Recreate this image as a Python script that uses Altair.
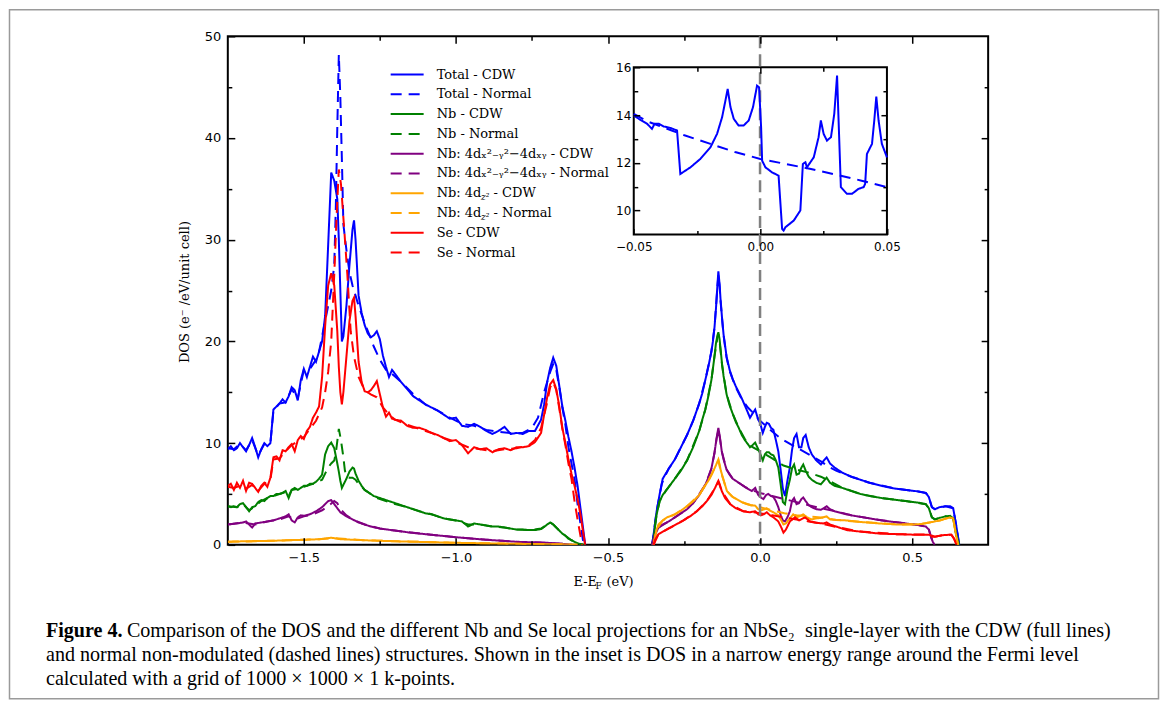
import altair as alt
import pandas as pd

# ---------------- series meta ----------------
SERIES = ["Total - CDW", "Total - Normal", "Nb - CDW", "Nb - Normal",
          "Nb d1 - CDW", "Nb d1 - Normal", "Nb d2 - CDW", "Nb d2 - Normal",
          "Se - CDW", "Se - Normal"]
COLORS = ["#0000ff", "#0000ff", "#008000", "#008000", "#800080", "#800080",
          "#ffa500", "#ffa500", "#ff0000", "#ff0000"]
DASHES = [[1, 0], [11, 7], [1, 0], [11, 7], [1, 0], [11, 7], [1, 0], [11, 7], [1, 0], [11, 7]]
LEGEND_LABELS = ["Total - CDW", "Total - Normal", "Nb - CDW", "Nb - Normal",
                 "Nb: 4dₓ²₋ᵧ²−4dₓᵧ - CDW", "Nb: 4dₓ²₋ᵧ²−4dₓᵧ - Normal",
                 "Nb: 4d", "Nb: 4d", "Se - CDW", "Se - Normal"]
LEGEND_SUB = ["", "", "", "", "", "", "z²", "z²", "", ""]
LEGEND_TAIL = ["", "", "", "", "", "", "- CDW", "- Normal", "", ""]

# ---------------- lower band (E < -0.5 eV) ----------------
LO_GRID = [-1.75, -1.74, -1.73, -1.72, -1.71, -1.70, -1.69, -1.68, -1.67, -1.66,
           -1.65, -1.64, -1.63, -1.62, -1.61, -1.60, -1.59, -1.58, -1.57, -1.56,
           -1.55, -1.54, -1.53, -1.52, -1.51, -1.50, -1.49, -1.48, -1.47, -1.46,
           -1.45, -1.44, -1.43, -1.42, -1.41, -1.40,
           -1.39, -1.385, -1.38, -1.375, -1.37,
           -1.36, -1.35, -1.34, -1.335,
           -1.33, -1.32, -1.31, -1.30, -1.29, -1.28, -1.27, -1.26, -1.25, -1.24, -1.23, -1.22, -1.21, -1.20,
           -1.18, -1.16, -1.14, -1.12, -1.10, -1.08, -1.06, -1.04, -1.02, -1.00, -0.98, -0.96, -0.94, -0.92,
           -0.90, -0.88, -0.86, -0.84, -0.82, -0.80, -0.78, -0.76, -0.74,
           -0.72, -0.71, -0.70, -0.69, -0.68, -0.67, -0.66, -0.65, -0.64, -0.63, -0.62, -0.61, -0.60, -0.59, -0.58,
           -0.575]
TOT_LO_V = [9.4, 9.7, 9.3, 9.5, 10.0, 9.6, 9.2, 9.8, 10.5, 9.6,
            8.6, 9.4, 10.0, 9.7, 10.0, 13.3, 13.6, 13.9, 14.3, 14.0,
            14.6, 15.5, 15.2, 14.2, 16.2, 17.3, 16.5, 17.5, 18.5, 18.0,
            19.0, 20.0, 22.5, 29.5, 36.6, 35.8,
            34.0, 30.0, 25.0, 20.0, 20.5,
            23.5, 27.5, 31.0, 31.9,
            30.0, 24.5, 22.8, 21.6, 20.8, 20.4, 20.6, 21.0, 20.2, 18.6, 17.5, 16.5, 17.2, 16.8,
            16.0, 15.3, 14.6, 14.2, 13.8, 13.5, 13.2, 12.8, 12.4, 12.5, 11.7, 11.6, 11.9, 11.6,
            11.2, 10.9, 11.2, 11.6, 10.9, 11.0, 10.9, 11.2, 11.2,
            12.3, 13.8, 16.0, 17.4, 18.4, 17.6, 15.6, 13.6, 12.2, 10.6, 9.2, 7.6, 5.8, 3.5, 1.2,
            0.0]
SE_LO_V = [5.8, 6.0, 5.4, 6.1, 5.6, 6.3, 5.3, 6.1, 6.0, 5.6,
           5.2, 5.8, 6.1, 5.7, 6.6, 8.6, 8.7, 8.3, 9.3, 9.2,
           9.6, 9.9, 9.2, 10.3, 10.7, 10.4, 11.2, 11.6, 12.5, 13.0,
           13.6, 16.5, 21.5, 25.5, 26.7, 25.5,
           21.0, 17.5, 15.0, 13.8, 15.0,
           18.5, 22.0, 24.0, 24.3,
           22.5, 18.0, 16.0, 15.1, 15.0, 15.2, 15.6, 16.1, 14.8, 13.5, 12.6, 13.0, 12.4, 12.3,
           12.2, 11.7, 11.5, 11.5, 11.3, 11.0, 10.8, 10.5, 10.2, 10.3, 9.8, 9.0, 9.6, 9.4,
           9.5, 9.1, 9.4, 9.5, 9.3, 9.6, 9.6, 9.7, 10.1,
           11.0, 12.8, 14.5, 15.8, 16.2, 15.3, 13.6, 11.5, 10.0, 8.4, 7.0, 5.8, 4.5, 2.9, 0.9,
           0.0]
NB_LO_V = [3.8, 3.7, 3.8, 3.7, 4.0, 4.1, 3.7, 3.3, 3.7, 3.8,
           4.2, 4.4, 4.3, 4.6, 4.8, 4.8, 5.0, 5.0, 5.1, 5.3,
           4.6, 5.4, 5.6, 5.4, 5.6, 5.8, 5.8, 6.0, 6.0, 6.2,
           6.5, 6.9, 8.9, 9.7, 10.05, 9.5,
           8.0, 7.2, 6.3, 5.6, 5.9,
           6.5, 7.2, 7.6, 7.5,
           7.0, 6.3, 5.8, 5.4, 5.2, 5.0, 4.8, 4.7, 4.6, 4.5, 4.4, 4.3, 4.2, 4.1,
           3.9, 3.7, 3.5, 3.3, 3.1, 3.0, 2.8, 2.6, 2.5, 2.4, 2.3, 1.8, 2.1, 2.0,
           1.9, 1.8, 1.8, 1.7, 1.6, 1.5, 1.5, 1.45, 1.45,
           1.55, 1.75, 2.0, 2.2, 2.0, 1.7, 1.4, 1.1, 0.9, 0.6, 0.45, 0.3, 0.15, 0.05, 0.0,
           0.0]
TOTN_LO_E = [-1.75, -1.73, -1.71, -1.69, -1.67, -1.65, -1.63, -1.61, -1.60, -1.58, -1.56, -1.54, -1.52,
             -1.50, -1.48, -1.46, -1.45, -1.44, -1.43, -1.42, -1.41, -1.40, -1.395, -1.39, -1.385,
             -1.38, -1.375, -1.37, -1.36, -1.35, -1.34, -1.33, -1.32, -1.30, -1.28, -1.27, -1.25,
             -1.23, -1.21, -1.18, -1.14, -1.10, -1.06, -1.02, -0.98, -0.94, -0.90, -0.86, -0.82,
             -0.78, -0.75, -0.73, -0.71, -0.69, -0.68, -0.67, -0.66, -0.65, -0.64, -0.63, -0.62,
             -0.61, -0.60, -0.59, -0.58]
TOTN_LO_V = [9.5, 9.4, 9.9, 9.3, 10.3, 8.8, 9.9, 10.0, 13.2, 13.9, 14.0, 15.3, 14.4,
             17.2, 17.3, 18.2, 19.0, 20.5, 22.0, 23.5, 25.0, 27.5, 33.0, 41.0, 48.2,
             44.0, 38.0, 31.5, 29.0, 26.8, 25.5, 24.5, 23.5, 21.8, 20.3, 19.5, 18.2,
             17.2, 16.8, 16.0, 14.8, 13.8, 13.2, 12.5, 11.9, 11.7, 11.3, 11.1, 11.0,
             11.0, 11.5, 12.5, 15.0, 17.0, 17.8, 17.2, 15.5, 13.5, 11.8, 9.6, 8.0,
             6.5, 4.0, 2.0, 0.0]
SEN_LO_E = [-1.75, -1.73, -1.71, -1.69, -1.67, -1.65, -1.63, -1.61, -1.60, -1.58, -1.56, -1.54,
            -1.52, -1.50, -1.48, -1.46, -1.44, -1.43, -1.42, -1.41, -1.40, -1.392, -1.385,
            -1.378, -1.372, -1.366, -1.357, -1.346, -1.335, -1.32, -1.30, -1.28, -1.26, -1.24,
            -1.22, -1.20, -1.16, -1.12, -1.08, -1.04, -1.00, -0.96, -0.92, -0.88, -0.84, -0.80,
            -0.76, -0.74, -0.72, -0.70, -0.69, -0.68, -0.67, -0.66, -0.65, -0.64, -0.63, -0.62,
            -0.61, -0.60, -0.59, -0.585]
SEN_LO_V = [5.7, 5.6, 5.8, 5.5, 5.9, 5.3, 6.0, 6.4, 8.4, 8.5, 9.2, 9.8,
            10.2, 10.6, 11.4, 12.2, 13.5, 15.0, 17.0, 20.0, 26.6, 32.5, 36.9,
            35.5, 33.0, 30.5, 26.6, 21.0, 18.5, 16.5, 15.2, 14.8, 14.5, 13.5,
            12.8, 12.3, 11.8, 11.4, 11.0, 10.5, 10.1, 9.6, 9.4, 9.2, 9.4, 9.5,
            9.8, 10.3, 11.5, 14.0, 15.5, 16.0, 15.2, 13.4, 11.4, 9.8, 8.0, 6.5,
            4.3, 2.5, 0.8, 0.0]
NBN_LO_E = [-1.75, -1.72, -1.70, -1.68, -1.66, -1.64, -1.62, -1.60, -1.58, -1.56, -1.55, -1.54,
            -1.52, -1.50, -1.48, -1.46, -1.44, -1.43, -1.42, -1.41, -1.40, -1.395, -1.39, -1.385,
            -1.378, -1.37, -1.365, -1.36, -1.35, -1.34, -1.33, -1.32, -1.30, -1.28, -1.26, -1.24,
            -1.20, -1.16, -1.12, -1.08, -1.04, -1.00, -0.96, -0.92, -0.88, -0.84, -0.80, -0.76,
            -0.72, -0.70, -0.69, -0.68, -0.66, -0.64, -0.62, -0.60, -0.58]
NBN_LO_V = [3.8, 3.7, 4.0, 3.4, 3.8, 4.3, 4.6, 4.8, 5.0, 5.2, 4.8, 5.4,
            5.5, 5.7, 5.9, 6.1, 6.4, 7.0, 7.6, 8.0, 8.3, 9.0, 10.2, 11.4,
            10.3, 8.6, 7.3, 6.7, 6.6, 6.6, 6.4, 6.0, 5.4, 5.0, 4.6, 4.4,
            4.0, 3.7, 3.3, 3.0, 2.6, 2.4, 2.0, 2.0, 1.8, 1.7, 1.5, 1.45,
            1.6, 2.0, 2.2, 2.0, 1.4, 0.9, 0.45, 0.15, 0.0]
PUR_LO_E = [-1.75, -1.72, -1.70, -1.69, -1.68, -1.67, -1.66, -1.64, -1.62, -1.60, -1.58, -1.56,
            -1.55, -1.54, -1.53, -1.52, -1.51, -1.50, -1.48, -1.46, -1.44, -1.43, -1.42, -1.41,
            -1.40, -1.39, -1.38, -1.37, -1.36, -1.34, -1.32, -1.30, -1.28, -1.25, -1.20, -1.15,
            -1.10, -1.00, -0.90, -0.80, -0.70, -0.65, -0.62]
PUR_LO_V = [2.0, 2.1, 2.2, 2.3, 2.0, 1.7, 2.1, 2.2, 2.3, 2.4, 2.6, 2.8,
            3.0, 2.4, 2.2, 2.7, 2.9, 2.85, 3.0, 3.3, 3.7, 4.0, 4.3, 4.4,
            4.0, 3.6, 3.2, 3.0, 2.8, 2.5, 2.2, 2.0, 1.8, 1.6, 1.4, 1.2,
            1.05, 0.75, 0.5, 0.3, 0.2, 0.1, 0.0]
PURN_LO_E = [-1.75, -1.70, -1.66, -1.62, -1.58, -1.55, -1.53, -1.50, -1.47, -1.44, -1.42, -1.40, -1.39,
             -1.38, -1.36, -1.34, -1.30, -1.25, -1.20, -1.10, -1.00, -0.90, -0.80, -0.70, -0.65, -0.62]
PURN_LO_V = [2.0, 2.2, 2.0, 2.3, 2.5, 2.8, 2.5, 2.8, 3.0, 3.4, 3.8, 4.3, 4.1,
             3.5, 2.9, 2.5, 2.0, 1.6, 1.4, 1.05, 0.75, 0.5, 0.3, 0.2, 0.1, 0.0]
ORA_LO_E = [-1.75, -1.70, -1.60, -1.50, -1.45, -1.41, -1.38, -1.30, -1.20, -1.00, -0.80, -0.65, -0.60]
ORA_LO_V = [0.3, 0.35, 0.4, 0.5, 0.55, 0.7, 0.55, 0.45, 0.35, 0.2, 0.1, 0.05, 0.0]
ORAN_LO_E = [-1.75, -1.60, -1.45, -1.40, -1.30, -1.20, -1.00, -0.80, -0.60]
ORAN_LO_V = [0.3, 0.4, 0.55, 0.65, 0.45, 0.35, 0.2, 0.1, 0.0]

# ---------------- upper band (E > -0.4 eV) ----------------
UP_GRID = [-0.355, -0.35, -0.345, -0.34, -0.33, -0.32, -0.31, -0.30, -0.28, -0.26, -0.24, -0.22,
           -0.20, -0.19, -0.18, -0.17, -0.16, -0.155, -0.15, -0.145, -0.14, -0.137, -0.133, -0.13,
           -0.125, -0.12, -0.11, -0.10, -0.09, -0.08, -0.07, -0.06, -0.05, -0.04, -0.033, -0.025,
           -0.016, -0.006, 0.0, 0.009, 0.016, 0.022, 0.029, 0.036, 0.044, 0.052, 0.060, 0.068,
           0.075, 0.082, 0.090, 0.098, 0.105, 0.112, 0.120, 0.128, 0.136, 0.142, 0.150, 0.160,
           0.170, 0.185, 0.200, 0.210, 0.219, 0.230, 0.245, 0.27, 0.30, 0.33, 0.36, 0.40, 0.44,
           0.48, 0.52, 0.545, 0.555, 0.565, 0.575, 0.59, 0.61, 0.625, 0.635, 0.645, 0.655]
TOT_UP_V = [0, 1.0, 2.2, 3.3, 5.0, 6.5, 7.0, 7.5, 8.4, 9.6, 10.8, 12.2,
            13.9, 14.9, 16.2, 17.5, 19.0, 20.0, 21.3, 23.2, 25.6, 26.9, 25.6, 24.2,
            22.3, 20.7, 18.5, 17.2, 16.3, 15.6, 15.0, 14.4, 13.7, 13.0, 12.5, 12.9,
            13.3, 12.3, 12.0, 11.0, 11.6, 12.0, 11.9, 11.5, 11.3, 10.3, 9.2, 7.3,
            5.5, 4.8, 6.3, 7.6, 9.3, 10.5, 10.9, 9.6, 9.6, 10.5, 10.8, 9.6,
            8.9, 8.3, 7.9, 8.3, 8.6, 8.0, 7.6, 7.1, 6.7, 6.4, 6.1, 5.8, 5.55,
            5.4, 5.25, 5.1, 4.7, 3.7, 3.5, 3.7, 3.8, 3.8, 3.6, 1.9, 0]
NB_UP_V = [0, 0.6, 1.9, 3.0, 4.3, 4.9, 5.3, 5.7, 6.5, 7.3, 8.3, 9.6,
           11.2, 12.3, 13.3, 14.6, 16.2, 17.3, 18.5, 19.8, 20.6, 20.9, 20.2, 19.3,
           17.8, 16.6, 14.8, 13.7, 12.9, 12.1, 11.5, 10.8, 10.3, 9.9, 9.6, 9.8,
           10.05, 9.4, 9.0, 8.3, 8.9, 9.1, 9.1, 8.9, 8.8, 8.3, 7.6, 5.9,
           4.2, 4.0, 5.4, 6.4, 7.5, 7.9, 6.9, 7.0, 7.6, 7.9, 7.3, 6.7,
           6.4, 6.1, 5.95, 6.3, 6.6, 6.1, 5.8, 5.6, 5.3, 5.0, 4.8, 4.6, 4.45,
           4.3, 4.15, 4.0, 3.6, 2.7, 2.5, 2.65, 2.8, 2.85, 2.6, 1.0, 0]
PUR_UP_E = [-0.355, -0.345, -0.334, -0.32, -0.30, -0.28, -0.26, -0.24, -0.22, -0.20, -0.18, -0.17,
            -0.16, -0.15, -0.143, -0.137, -0.132, -0.126, -0.12, -0.11, -0.10, -0.09, -0.08, -0.07,
            -0.06, -0.05, -0.04, -0.027, -0.016, -0.006, 0.005, 0.011, 0.02, 0.027, 0.036, 0.044,
            0.052, 0.060, 0.068, 0.075, 0.082, 0.09, 0.098, 0.105, 0.112, 0.120, 0.128, 0.136,
            0.142, 0.150, 0.160, 0.170, 0.185, 0.200, 0.210, 0.219, 0.230, 0.245, 0.27, 0.30,
            0.33, 0.36, 0.40, 0.44, 0.48, 0.52, 0.545, 0.555, 0.563, 0.568, 0.574]
PUR_UP_V = [0, 1.0, 1.7, 2.0, 2.3, 2.7, 3.1, 3.5, 4.1, 4.9, 5.9, 6.6,
            7.5, 9.0, 10.5, 11.5, 10.6, 9.2, 8.4, 7.4, 6.9, 6.5, 6.3, 6.1,
            5.9, 5.7, 5.5, 5.3, 5.6, 4.9, 4.6, 4.5, 4.9, 5.0, 4.8, 4.7,
            4.3, 3.7, 2.9, 2.4, 2.3, 2.7, 3.3, 4.3, 4.6, 4.0, 4.1, 4.5,
            4.65, 4.3, 3.9, 3.7, 3.5, 3.45, 3.6, 3.8, 3.5, 3.3, 3.1, 2.9,
            2.75, 2.6, 2.4, 2.25, 2.1, 1.95, 1.8, 1.5, 0.7, 0.3, 0]
ORA_UP_E = [-0.35, -0.345, -0.34, -0.334, -0.32, -0.306, -0.28, -0.263, -0.24, -0.219, -0.20, -0.186,
            -0.17, -0.159, -0.15, -0.144, -0.137, -0.133, -0.129, -0.12, -0.109, -0.10, -0.09, -0.077,
            -0.06, -0.044, -0.03, -0.016, -0.006, 0.005, 0.015, 0.022, 0.03, 0.044, 0.06, 0.07,
            0.077, 0.085, 0.095, 0.109, 0.12, 0.13, 0.142, 0.155, 0.169, 0.185, 0.200, 0.219,
            0.23, 0.25, 0.285, 0.33, 0.394, 0.45, 0.503, 0.53, 0.558, 0.591, 0.624, 0.635, 0.643, 0.651]
ORA_UP_V = [0, 0.8, 1.5, 2.0, 2.4, 2.7, 3.0, 3.3, 3.8, 4.3, 4.9, 5.6,
            6.3, 6.9, 7.5, 7.9, 8.4, 7.9, 7.3, 6.4, 5.3, 5.0, 4.7, 4.5,
            4.2, 4.0, 3.9, 3.85, 3.5, 3.4, 3.5, 3.6, 3.4, 3.2, 2.9, 2.4,
            2.0, 2.1, 2.5, 3.0, 2.7, 2.8, 3.0, 2.7, 2.5, 2.6, 2.65, 2.8,
            2.5, 2.45, 2.4, 2.25, 2.1, 2.0, 2.0, 2.05, 2.2, 2.4, 2.7, 2.6, 1.2, 0]
SE_UP_E = [-0.35, -0.345, -0.334, -0.32, -0.295, -0.27, -0.252, -0.23, -0.208, -0.19, -0.175, -0.16,
           -0.148, -0.137, -0.132, -0.126, -0.115, -0.098, -0.08, -0.055, -0.035, -0.016, -0.006, 0.002,
           0.012, 0.022, 0.033, 0.044, 0.06, 0.07, 0.077, 0.085, 0.098, 0.115, 0.128, 0.148,
           0.165, 0.19, 0.208, 0.219, 0.23, 0.26, 0.285, 0.33, 0.394, 0.45, 0.503, 0.558,
           0.565, 0.575, 0.601, 0.629, 0.638, 0.646]
SE_UP_V = [0, 0.5, 1.05, 1.3, 1.7, 2.1, 2.4, 2.8, 3.3, 3.8, 4.3, 4.9,
           5.6, 6.3, 5.9, 5.3, 4.6, 4.0, 3.6, 3.3, 3.2, 3.3, 3.0, 2.9,
           3.0, 3.2, 2.9, 2.7, 2.3, 1.7, 1.2, 1.5, 2.3, 2.7, 2.4, 2.7,
           2.3, 2.15, 2.1, 2.2, 2.0, 1.7, 1.45, 1.3, 1.1, 1.05, 1.0, 1.0,
           0.8, 0.8, 0.95, 1.0, 0.6, 0]
TOTN_UP_E = [-0.355, -0.35, -0.345, -0.34, -0.33, -0.323, -0.31, -0.30, -0.28, -0.26, -0.24, -0.22,
             -0.20, -0.18, -0.16, -0.15, -0.14, -0.137, -0.133, -0.13, -0.12, -0.11, -0.10, -0.08,
             -0.06, -0.05, -0.04, -0.02, 0.0, 0.03, 0.066, 0.10, 0.13, 0.16, 0.20, 0.23,
             0.25, 0.30, 0.36, 0.44, 0.52, 0.545, 0.555, 0.565, 0.575, 0.61, 0.635, 0.645, 0.655]
TOTN_UP_V = [0, 1.0, 2.2, 3.3, 4.9, 6.0, 6.9, 7.5, 8.4, 9.6, 10.8, 12.2,
             13.9, 16.2, 19.0, 21.3, 25.4, 26.5, 25.4, 24.0, 20.6, 18.4, 17.1, 15.5,
             14.3, 13.9, 13.5, 12.9, 12.2, 11.4, 10.5, 9.9, 9.4, 8.9, 8.2, 7.6,
             7.3, 6.7, 6.1, 5.55, 5.25, 5.1, 4.7, 3.7, 3.5, 3.8, 3.6, 1.9, 0]
NBN_UP_E = [-0.355, -0.35, -0.345, -0.34, -0.33, -0.31, -0.28, -0.24, -0.20, -0.18, -0.16, -0.15,
            -0.14, -0.137, -0.133, -0.125, -0.11, -0.09, -0.07, -0.05, -0.03, 0.0, 0.04, 0.077,
            0.12, 0.16, 0.20, 0.24, 0.27, 0.33, 0.40, 0.48, 0.545, 0.555, 0.565, 0.575,
            0.61, 0.635, 0.645, 0.655]
NBN_UP_V = [0, 0.6, 1.9, 3.0, 4.3, 5.3, 6.5, 8.3, 11.2, 13.3, 16.2, 18.5,
            20.4, 20.7, 20.0, 17.7, 14.8, 12.9, 11.5, 10.4, 9.7, 9.2, 8.5, 7.8,
            7.4, 7.1, 6.7, 6.1, 5.6, 5.0, 4.6, 4.3, 4.0, 3.6, 2.7, 2.5,
            2.8, 2.6, 1.0, 0]
PURN_UP_E = [-0.355, -0.345, -0.334, -0.30, -0.26, -0.22, -0.18, -0.16, -0.15, -0.143, -0.137, -0.132,
             -0.126, -0.11, -0.09, -0.07, -0.05, -0.03, 0.0, 0.04, 0.08, 0.12, 0.16, 0.20,
             0.25, 0.30, 0.36, 0.44, 0.52, 0.545, 0.555, 0.563, 0.574]
PURN_UP_V = [0, 1.0, 1.7, 2.3, 3.1, 4.1, 5.9, 7.5, 9.0, 10.4, 11.3, 10.5,
             9.2, 7.4, 6.5, 6.1, 5.7, 5.4, 5.1, 4.8, 4.5, 4.2, 3.9, 3.6,
             3.3, 2.9, 2.6, 2.25, 1.95, 1.8, 1.5, 0.7, 0]
ORAN_UP_E = [-0.35, -0.34, -0.32, -0.28, -0.24, -0.20, -0.17, -0.15, -0.137, -0.129, -0.109, -0.09,
             -0.06, -0.03, 0.0, 0.04, 0.08, 0.12, 0.16, 0.20, 0.25, 0.33, 0.45, 0.53,
             0.591, 0.624, 0.635, 0.643, 0.651]
ORAN_UP_V = [0, 1.5, 2.4, 3.0, 3.8, 4.9, 6.3, 7.5, 8.3, 7.2, 5.3, 4.7,
             4.2, 3.9, 3.7, 3.4, 3.1, 2.9, 2.8, 2.7, 2.45, 2.25, 2.0, 2.05,
             2.4, 2.7, 2.6, 1.2, 0]
SEN_UP_E = [-0.35, -0.334, -0.295, -0.252, -0.208, -0.175, -0.148, -0.137, -0.126, -0.098, -0.055, -0.02,
            0.0, 0.04, 0.08, 0.12, 0.16, 0.20, 0.26, 0.33, 0.45, 0.558, 0.575, 0.601, 0.629, 0.638, 0.646]
SEN_UP_V = [0, 1.05, 1.7, 2.4, 3.3, 4.3, 5.6, 6.2, 5.3, 4.0, 3.3, 3.2,
            3.1, 2.9, 2.7, 2.5, 2.3, 2.1, 1.7, 1.3, 1.05, 1.0, 0.8, 0.95, 1.0, 0.6, 0]

# ---------------- inset (narrow range around E_F) ----------------
INSET_E_CDW = [-0.05, -0.048, -0.0447, -0.0428, -0.0418, -0.0401, -0.0382, -0.0355, -0.0336, -0.0329,
               -0.0316, -0.0276, -0.0237, -0.0197, -0.0171, -0.0151, -0.0138, -0.0129, -0.0118, -0.0105,
               -0.0086, -0.0066, -0.0046, -0.0029, -0.0013, -0.0005, 0.0003, 0.0007, 0.002, 0.0046,
               0.0072, 0.0086, 0.0092, 0.0099, 0.0132, 0.0158, 0.0168, 0.0178, 0.0184, 0.0211,
               0.023, 0.0239, 0.025, 0.0263, 0.0279, 0.0292, 0.0303, 0.0309, 0.0318, 0.0342,
               0.0362, 0.0388, 0.0408, 0.0414, 0.0421, 0.0441, 0.045, 0.0458, 0.0467, 0.048, 0.05]
INSET_V_CDW = [13.98, 13.84, 13.63, 13.42, 13.63, 13.63, 13.52, 13.46, 13.38, 13.35,
               11.53, 11.81, 12.16, 12.65, 13.21, 13.91, 14.6, 15.09, 14.33, 13.84,
               13.56, 13.56, 13.77, 14.33, 15.23, 15.16, 13.49, 12.09, 11.81, 11.6,
               11.46, 9.23, 9.16, 9.3, 9.58, 10.0, 11.95, 12.02, 11.81, 12.23,
               13.07, 13.77, 13.21, 12.93, 13.07, 14.05, 15.65, 13.77, 10.98, 10.7,
               10.7, 10.91, 10.98, 11.12, 12.37, 12.79, 13.77, 14.77, 13.77, 12.79, 12.23]
INSET_E_NORMAL = [-0.05, -0.045, -0.04, -0.035, -0.03, -0.02, -0.01, 0.0, 0.01, 0.02, 0.03, 0.04, 0.05]
INSET_V_NORMAL = [14.05, 13.75, 13.55, 13.35, 13.15, 12.8, 12.45, 12.16, 11.95, 11.74, 11.5, 11.25, 10.98]

# ---------------- ticks & texts ----------------
X_MAJOR = [-1.5, -1.0, -0.5, 0.0, 0.5]
X_MINOR = [-1.25, -0.75, -0.25, 0.25]
Y_MAJOR = [0, 10, 20, 30, 40, 50]
Y_MAJOR_IN = [10, 20, 30, 40]
Y_MINOR = [5, 15, 25, 35, 45]
IX_MAJOR = [-0.05, 0.0, 0.05]
IX_MINOR = [-0.025, 0.025]
IY_MAJOR = [10, 12, 14, 16]
IY_MINOR = [11, 13, 15]
Y_TITLE = "DOS (e⁻ /eV/unit cell)"
X_TITLE_PARTS = ["E-E", "F", "(eV)"]
CAPTION_BOLD = "Figure 4."
CAPTION_LINE1 = "Comparison of the DOS and the different Nb and Se local projections for an NbSe₂\u00a0 single-layer with the CDW (full lines)"
CAPTION_REST = ["and normal non-modulated (dashed lines) structures. Shown in the inset is DOS in a narrow energy range around the Fermi level",
                "calculated with a grid of 1000 × 1000 × 1 k-points."]

# ---------------- build tables ----------------
main_rows = []


def add(rows, key, band, es, vs):
    for e, v in zip(es, vs):
        rows.append({"E": e, "V": v, "series": key, "band": band})


add(main_rows, "Total - CDW", "lo", LO_GRID, TOT_LO_V)
add(main_rows, "Total - CDW", "hi", UP_GRID, TOT_UP_V)
add(main_rows, "Total - Normal", "lo", TOTN_LO_E, TOTN_LO_V)
add(main_rows, "Total - Normal", "hi", TOTN_UP_E, TOTN_UP_V)
add(main_rows, "Nb - CDW", "lo", LO_GRID, NB_LO_V)
add(main_rows, "Nb - CDW", "hi", UP_GRID, NB_UP_V)
add(main_rows, "Nb - Normal", "lo", NBN_LO_E, NBN_LO_V)
add(main_rows, "Nb - Normal", "hi", NBN_UP_E, NBN_UP_V)
add(main_rows, "Nb d1 - CDW", "lo", PUR_LO_E, PUR_LO_V)
add(main_rows, "Nb d1 - CDW", "hi", PUR_UP_E, PUR_UP_V)
add(main_rows, "Nb d1 - Normal", "lo", PURN_LO_E, PURN_LO_V)
add(main_rows, "Nb d1 - Normal", "hi", PURN_UP_E, PURN_UP_V)
add(main_rows, "Nb d2 - CDW", "lo", ORA_LO_E, ORA_LO_V)
add(main_rows, "Nb d2 - CDW", "hi", ORA_UP_E, ORA_UP_V)
add(main_rows, "Nb d2 - Normal", "lo", ORAN_LO_E, ORAN_LO_V)
add(main_rows, "Nb d2 - Normal", "hi", ORAN_UP_E, ORAN_UP_V)
add(main_rows, "Se - CDW", "lo", LO_GRID, SE_LO_V)
add(main_rows, "Se - CDW", "hi", SE_UP_E, SE_UP_V)
add(main_rows, "Se - Normal", "lo", SEN_LO_E, SEN_LO_V)
add(main_rows, "Se - Normal", "hi", SEN_UP_E, SEN_UP_V)
df_main = pd.DataFrame(main_rows)

inset_rows = []
add(inset_rows, "Total - CDW", "in", INSET_E_CDW, INSET_V_CDW)
add(inset_rows, "Total - Normal", "in", INSET_E_NORMAL, INSET_V_NORMAL)
df_inset = pd.DataFrame(inset_rows)

df_leg = pd.DataFrame({"row": list(range(len(SERIES))), "series": SERIES,
                       "label": LEGEND_LABELS, "sub": LEGEND_SUB, "tail": LEGEND_TAIL})
df_leg_sub = df_leg[df_leg["sub"] != ""]

# ---------------- scales ----------------
X_MAIN = alt.Scale(domain=[-1.75, 0.75], nice=False, zero=False)
Y_MAIN = alt.Scale(domain=[0, 50], nice=False, zero=False)
X_INS = alt.Scale(domain=[-0.05, 0.05], range=[406.3, 659.7], nice=False, zero=False)
Y_INS = alt.Scale(domain=[9, 16], range=[198.3, 31], nice=False, zero=False)
COLOR = alt.Scale(domain=SERIES, range=COLORS)
DASH = alt.Scale(domain=SERIES, range=DASHES)
LEG_Y = alt.Scale(domain=[0, 9], range=[38.3, 216.5], nice=False, zero=False)

W, H = 761, 509


def ax(orient, values, size, offset, **kw):
    base = dict(orient=orient, values=values, tickSize=size, offset=offset, domain=False,
                grid=False, title=None, tickColor="black", tickWidth=1.5, zindex=1,
                labels=False)
    base.update(kw)
    return alt.Axis(**base)


LBL = dict(labels=True, labelFont="DejaVu Sans", labelColor="black",
           labelFlush=False, labelOverlap=False)

one = pd.DataFrame({"k": [0]})
main_corners = pd.DataFrame({"E": [-1.75, 0.75], "V": [0, 50]})
inset_corners = pd.DataFrame({"E": [-0.05, 0.05], "V": [9, 16]})


def ghost(df, xs, ys, xa, ya):
    return alt.Chart(df).mark_point(opacity=0).encode(
        x=alt.X("E:Q", scale=xs, axis=xa), y=alt.Y("V:Q", scale=ys, axis=ya))


# outer frame of the figure (kept inside the 1168x713 window)
frame = alt.Chart(one).mark_rect(filled=False, stroke="#9a9a9a", strokeWidth=1.5).encode(
    x=alt.value(-218.5), x2=alt.value(931.5), y=alt.value(-26.5), y2=alt.value(663))

main_lines = alt.Chart(df_main).mark_line(strokeWidth=2, clip=True).encode(
    x=alt.X("E:Q", scale=X_MAIN,
            axis=ax("bottom", X_MAJOR, 7, -7, format=".1f", labelPadding=7, labelFontSize=13, **LBL)),
    y=alt.Y("V:Q", scale=Y_MAIN,
            axis=ax("left", Y_MAJOR, 7, -7, format="d", labelPadding=7, labelFontSize=13, **LBL)),
    color=alt.Color("series:N", scale=COLOR, legend=None),
    strokeDash=alt.StrokeDash("series:N", scale=DASH, legend=None),
    detail="band:N",
)
g_main_minor = ghost(main_corners, X_MAIN, Y_MAIN, ax("bottom", X_MINOR, 4, -4), ax("left", Y_MINOR, 4, -4))
g_main_top = ghost(main_corners, X_MAIN, Y_MAIN, ax("top", X_MAJOR, 7, -7), ax("right", Y_MAJOR_IN, 7, -7))
g_main_top_minor = ghost(main_corners, X_MAIN, Y_MAIN, ax("top", X_MINOR, 4, -4), ax("right", Y_MINOR, 4, -4))

inset_box = alt.Chart(pd.DataFrame({"x0": [-0.05], "x1": [0.05], "y0": [9], "y1": [16]})).mark_rect(
    filled=False, stroke="black", strokeWidth=2).encode(
    x=alt.X("x0:Q", scale=X_INS, axis=None), x2="x1:Q",
    y=alt.Y("y0:Q", scale=Y_INS, axis=None), y2="y1:Q")

fermi = alt.Chart(pd.DataFrame({"E": [0.0]})).mark_rule(
    color="gray", strokeWidth=2.5, strokeDash=[12, 6]).encode(
    x=alt.X("E:Q", scale=X_MAIN, axis=None))

ib = 198.3
il = 406.3
it = 31.0
ir = 659.7
inset_lines = alt.Chart(df_inset).mark_line(strokeWidth=2).encode(
    x=alt.X("E:Q", scale=X_INS,
            axis=ax("bottom", IX_MAJOR, 6, (ib - 6) - H, format=".2f", labelPadding=7, labelFontSize=12, **LBL)),
    y=alt.Y("V:Q", scale=Y_INS,
            axis=ax("left", IY_MAJOR, 6, -(il + 6), format="d", labelPadding=3, labelFontSize=12, **LBL)),
    color=alt.Color("series:N", scale=COLOR, legend=None),
    strokeDash=alt.StrokeDash("series:N", scale=DASH, legend=None),
)
g_in_minor = ghost(inset_corners, X_INS, Y_INS, ax("bottom", IX_MINOR, 4, (ib - 4) - H), ax("left", IY_MINOR, 4, -(il + 4)))
g_in_top = ghost(inset_corners, X_INS, Y_INS, ax("top", [0.0], 6, -(it + 6)), ax("right", [10, 12, 14], 6, (ir - 6) - W))
g_in_top_minor = ghost(inset_corners, X_INS, Y_INS, ax("top", IX_MINOR, 4, -(it + 4)), ax("right", IY_MINOR, 4, (ir - 4) - W))

# legend
leg_rules = alt.Chart(df_leg).mark_rule(strokeWidth=2).encode(
    x=alt.value(163), x2=alt.value(196),
    y=alt.Y("row:Q", scale=LEG_Y, axis=None),
    color=alt.Color("series:N", scale=COLOR, legend=None),
    strokeDash=alt.StrokeDash("series:N", scale=DASH, legend=None))
leg_text = alt.Chart(df_leg).mark_text(align="left", baseline="middle", font="DejaVu Serif",
                                        fontSize=13, color="black").encode(
    x=alt.value(209), y=alt.Y("row:Q", scale=LEG_Y, axis=None), text="label:N")
leg_sub = alt.Chart(df_leg_sub).mark_text(align="left", baseline="middle", font="DejaVu Serif",
                                           fontSize=9, fontStyle="italic", color="black", dy=4).encode(
    x=alt.value(253.5), y=alt.Y("row:Q", scale=LEG_Y, axis=None), text="sub:N")
leg_tail = alt.Chart(df_leg_sub).mark_text(align="left", baseline="middle", font="DejaVu Serif",
                                            fontSize=13, color="black").encode(
    x=alt.value(266), y=alt.Y("row:Q", scale=LEG_Y, axis=None), text="tail:N")

# axis titles
y_title = alt.Chart(pd.DataFrame({"t": [Y_TITLE]})).mark_text(
    angle=270, align="center", baseline="middle", font="DejaVu Serif", fontSize=13, color="black").encode(
    x=alt.value(-43), y=alt.value(256), text="t:N")
x_t1 = alt.Chart(pd.DataFrame({"t": [X_TITLE_PARTS[0]]})).mark_text(
    align="left", baseline="alphabetic", font="DejaVu Serif", fontSize=13, color="black").encode(
    x=alt.value(346), y=alt.value(550), text="t:N")
x_t2 = alt.Chart(pd.DataFrame({"t": [X_TITLE_PARTS[1]]})).mark_text(
    align="left", baseline="alphabetic", font="DejaVu Serif", fontSize=9, color="black").encode(
    x=alt.value(368), y=alt.value(553), text="t:N")
x_t3 = alt.Chart(pd.DataFrame({"t": [X_TITLE_PARTS[2]]})).mark_text(
    align="left", baseline="alphabetic", font="DejaVu Serif", fontSize=13, color="black").encode(
    x=alt.value(379), y=alt.value(550), text="t:N")

# caption
CAP_FONT = "Liberation Serif"
CAP_SIZE = 20.1
cap_bold = alt.Chart(pd.DataFrame({"t": [CAPTION_BOLD]})).mark_text(
    align="left", baseline="alphabetic", font=CAP_FONT, fontSize=CAP_SIZE, fontWeight="bold", color="black").encode(
    x=alt.value(-182), y=alt.value(601), text="t:N")
cap_1 = alt.Chart(pd.DataFrame({"t": [CAPTION_LINE1]})).mark_text(
    align="left", baseline="alphabetic", font=CAP_FONT, fontSize=CAP_SIZE, color="black").encode(
    x=alt.value(-101), y=alt.value(601), text="t:N")
cap_rest = alt.Chart(pd.DataFrame({"t": CAPTION_REST, "i": [0, 1]})).mark_text(
    align="left", baseline="alphabetic", font=CAP_FONT, fontSize=CAP_SIZE, color="black").encode(
    x=alt.value(-182),
    y=alt.Y("i:Q", scale=alt.Scale(domain=[0, 1], range=[625, 649], nice=False, zero=False), axis=None),
    text="t:N")

chart = alt.layer(
    frame, main_lines, g_main_minor, g_main_top, g_main_top_minor,
    inset_box, fermi, inset_lines, g_in_minor, g_in_top, g_in_top_minor,
    leg_rules, leg_text, leg_sub, leg_tail, y_title, x_t1, x_t2, x_t3,
    cap_bold, cap_1, cap_rest,
).resolve_scale(x="independent", y="independent").resolve_axis(
    x="independent", y="independent"
).properties(width=W, height=H, padding=0).configure_view(stroke="black", strokeWidth=2)

chart.save("out.html", embed_options={"renderer": "svg", "actions": False})
